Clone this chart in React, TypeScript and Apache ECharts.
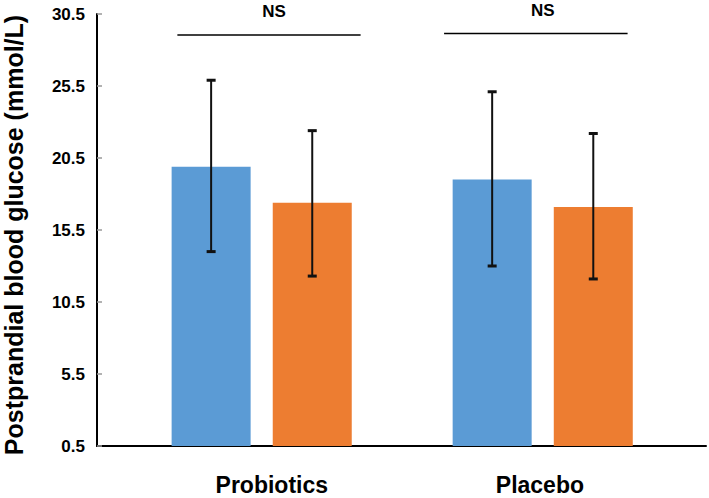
import React, { useEffect, useRef } from "react";
import * as echarts from "echarts";

// ---- data ----
const categories = ["Probiotics", "Placebo"];
const categoryX = [1, 2];
const categoryLabelX = [1.036, 1.99];

const seriesNames = ["Series A", "Series B"];
const blueMeans = [19.9, 19.0];
const blueLow = [14.0, 13.0];
const blueHigh = [25.9, 25.1];
const orangeMeans = [17.4, 17.1];
const orangeLow = [12.3, 12.1];
const orangeHigh = [22.4, 22.2];

const bracketStart = [0.7, 1.649];
const bracketEnd = [1.352, 2.302];
const bracketY = [29.05, 29.15];
const bracketLabelX = [1.044, 2.0];
const bracketLabels = ["NS", "NS"];

const yTickMin = 0.5;
const yTickMax = 30.5;
const yTickStep = 5;

// ---- styling ----
const BAR_W = 79;
const BAR_GAP = 0.28;
const FONT = "'Liberation Sans', Arial, Helvetica, sans-serif";
const BLUE = "#5B9BD5";
const ORANGE = "#ED7D31";
const ERR = "#111111";

function errorSeries(name: string, low: number[], high: number[], side: number) {
  const data = categoryX.map((x, i) => [x, low[i], high[i]]);
  const offset = side * (BAR_W + BAR_W * BAR_GAP) / 2;
  return {
    type: "custom",
    name,
    data,
    encode: { x: 0, y: [1, 2] },
    z: 10,
    silent: true,
    renderItem: (params: any, api: any) => {
      const x = api.value(0);
      const lo = api.coord([x, api.value(1)]);
      const hi = api.coord([x, api.value(2)]);
      const cx = lo[0] + offset;
      const cap = 4.5;
      const st = { stroke: ERR, lineWidth: 2 };
      const capSt = { stroke: ERR, lineWidth: 3 };
      return {
        type: "group",
        children: [
          { type: "line", shape: { x1: cx, y1: lo[1], x2: cx, y2: hi[1] }, style: st },
          { type: "line", shape: { x1: cx - cap, y1: hi[1], x2: cx + cap, y2: hi[1] }, style: capSt },
          { type: "line", shape: { x1: cx - cap, y1: lo[1], x2: cx + cap, y2: lo[1] }, style: capSt },
        ],
      };
    },
  };
}

export default function App() {
  const ref = useRef<HTMLDivElement>(null);
  useEffect(() => {
    if (!ref.current) return;
    const chart = echarts.init(ref.current, null, { renderer: "svg" });
    const labelFor = (v: number) => {
      let best = -1;
      let bestD = Infinity;
      categoryLabelX.forEach((x, i) => {
        const d = Math.abs(x - v);
        if (d < bestD) {
          bestD = d;
          best = i;
        }
      });
      return bestD < 0.01 ? categories[best] : "";
    };

    chart.setOption({
      animation: false,
      backgroundColor: "#ffffff",
      grid: {
        left: 97,
        right: 3,
        top: 14,
        bottom: 52,
        containLabel: false,
        outerBoundsMode: "none",
      },
      xAxis: {
        type: "value",
        min: 0.414,
        max: 2.581,
        axisLine: { show: true, onZero: false, lineStyle: { color: "#000", width: 2 } },
        axisTick: { show: false },
        splitLine: { show: false },
        axisLabel: {
          customValues: categoryLabelX,
          formatter: (v: number) => labelFor(v),
          fontFamily: FONT,
          fontWeight: "bold",
          fontSize: 23,
          color: "#000",
          margin: 27,
        },
      },
      yAxis: {
        type: "value",
        min: yTickMin,
        max: yTickMax,
        interval: yTickStep,
        name: "Postprandial blood glucose (mmol/L)",
        nameLocation: "middle",
        nameGap: 71,
        nameTextStyle: {
          fontFamily: FONT,
          fontWeight: "bold",
          fontSize: 25,
          color: "#000",
          padding: [0, 10, 0, 0],
        },
        axisLine: { show: true, lineStyle: { color: "#000", width: 2 } },
        axisTick: { show: true, inside: true, length: 5, lineStyle: { color: "#999", width: 1.5 } },
        splitLine: { show: false },
        axisLabel: {
          fontFamily: FONT,
          fontWeight: "bold",
          fontSize: 17,
          color: "#000",
          margin: 12,
          formatter: (v: number) => v.toFixed(1),
        },
      },
      series: [
        {
          type: "bar",
          name: seriesNames[0],
          data: categoryX.map((x, i) => [x, blueMeans[i]]),
          barWidth: BAR_W,
          barGap: `${BAR_GAP * 100}%`,
          itemStyle: { color: BLUE },
        },
        {
          type: "bar",
          name: seriesNames[1],
          data: categoryX.map((x, i) => [x, orangeMeans[i]]),
          barWidth: BAR_W,
          barGap: `${BAR_GAP * 100}%`,
          itemStyle: { color: ORANGE },
        },
        errorSeries(seriesNames[0] + " SD", blueLow, blueHigh, -1),
        errorSeries(seriesNames[1] + " SD", orangeLow, orangeHigh, 1),
        {
          type: "custom",
          name: "significance",
          data: bracketStart.map((s, i) => [s, bracketEnd[i], bracketY[i], bracketLabelX[i], i]),
          encode: { x: [0, 1], y: 2 },
          clip: false,
          silent: true,
          z: 11,
          renderItem: (params: any, api: any) => {
            const p1 = api.coord([api.value(0), api.value(2)]);
            const p2 = api.coord([api.value(1), api.value(2)]);
            const pl = api.coord([api.value(3), api.value(2)]);
            const idx = api.value(4);
            return {
              type: "group",
              children: [
                { type: "line", shape: { x1: p1[0], y1: p1[1], x2: p2[0], y2: p2[1] }, style: { stroke: "#000", lineWidth: 1.5 } },
                {
                  type: "text",
                  x: pl[0],
                  y: pl[1] - 23,
                  style: {
                    text: bracketLabels[idx],
                    fill: "#000",
                    font: `bold 17px ${FONT}`,
                    textAlign: "center",
                    textVerticalAlign: "middle",
                  },
                },
              ],
            };
          },
        },
      ],
    });
    return () => chart.dispose();
  }, []);
  return (
    <div
      ref={ref}
      style={{ position: "fixed", left: 0, top: 0, width: 709, height: 498 }}
    />
  );
}
